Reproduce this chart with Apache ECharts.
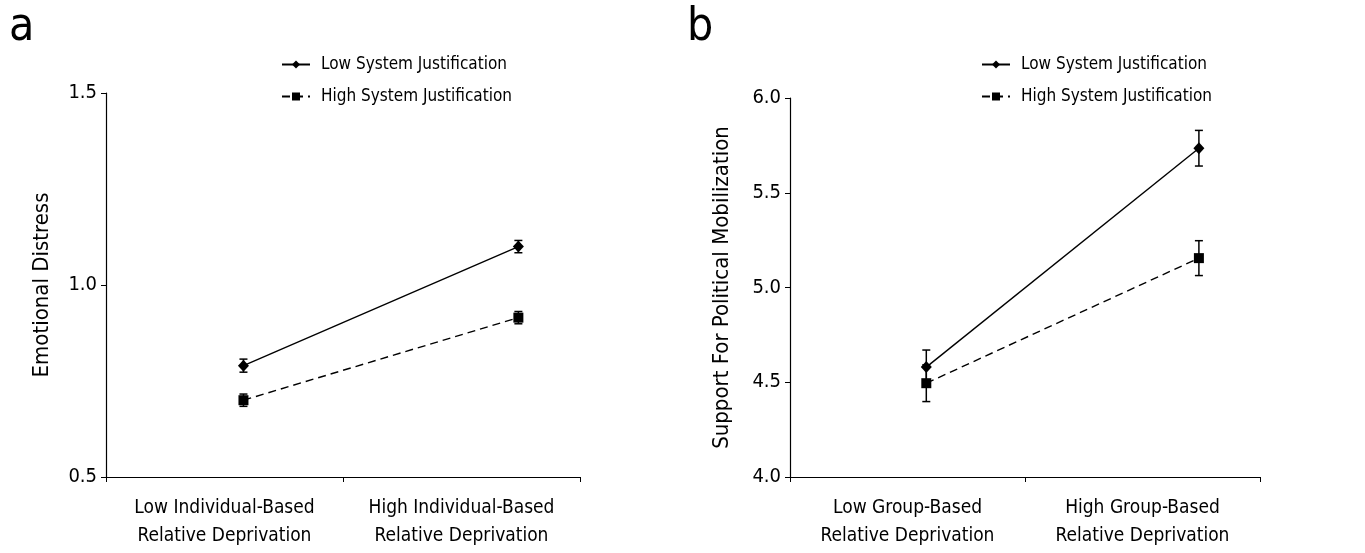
<!DOCTYPE html>
<html>
<head>
<meta charset="utf-8">
<script src="https://cdn.jsdelivr.net/npm/echarts@6/dist/echarts.min.js"></script>
<style>
html,body{margin:0;padding:0;background:#fff;}
#chart{width:1365px;height:553px;}
</style>
</head>
<body>
<div id="chart"></div>
<script>
// ---- data ----
const seriesNames = ['Low System Justification', 'High System Justification'];
const catsA = ['Low Individual-Based\nRelative Deprivation', 'High Individual-Based\nRelative Deprivation'];
const catsB = ['Low Group-Based\nRelative Deprivation', 'High Group-Based\nRelative Deprivation'];
// x location of the points on a 0..2 scale spanning the two categories
const pointX = [0.58, 1.74];
const lowSJ_A = [0.79, 1.10];
const lowSJ_A_err = [0.017, 0.016];
const highSJ_A = [0.70, 0.915];
const highSJ_A_err = [0.016, 0.016];
const lowSJ_B = [4.58, 5.735];
const lowSJ_B_err = [0.09, 0.094];
const highSJ_B = [4.495, 5.155];
const highSJ_B_err = [0.097, 0.092];
const yTicksA = {min: 0.5, max: 1.5, interval: 0.5};
const yTicksB = {min: 4.0, max: 6.0, interval: 0.5};
const yNameA = 'Emotional Distress';
const yNameB = 'Support For Political Mobilization';

const FONT = '"DejaVu Sans Condensed", "Liberation Sans Narrow", sans-serif';

function pts(vals) { return vals.map((v, i) => [pointX[i], v]); }
function errData(vals, errs) { return vals.map((v, i) => [pointX[i], v - errs[i], v + errs[i]]); }

function errSeries(name, vals, errs, xi, yi) {
  return {
    type: 'custom', name: name, xAxisIndex: xi, yAxisIndex: yi, z: 3,
    silent: true,
    data: errData(vals, errs),
    renderItem: function (params, api) {
      const x = api.value(0);
      const lo = api.coord([x, api.value(1)]);
      const hi = api.coord([x, api.value(2)]);
      const w = 4;
      const st = {stroke: '#000', lineWidth: 1.5};
      return {type: 'group', children: [
        {type: 'line', shape: {x1: lo[0], y1: lo[1], x2: hi[0], y2: hi[1]}, style: st},
        {type: 'line', shape: {x1: lo[0] - w, y1: lo[1], x2: lo[0] + w, y2: lo[1]}, style: st},
        {type: 'line', shape: {x1: hi[0] - w, y1: hi[1], x2: hi[0] + w, y2: hi[1]}, style: st}
      ]};
    }
  };
}

function lineSeries(name, vals, xi, yi, dashed) {
  return {
    type: 'line', name: name, xAxisIndex: xi, yAxisIndex: yi, z: 4,
    data: pts(vals),
    symbol: dashed ? 'rect' : 'diamond',
    symbolSize: dashed ? 10 : [11, 12],
    itemStyle: {color: '#000'},
    lineStyle: {color: '#000', width: 1.4, type: dashed ? [8, 5] : 'solid'},
    emphasis: {disabled: true},
    animation: false
  };
}

function catAxis(cats, gi) {
  return {
    type: 'category', gridIndex: gi, data: cats, boundaryGap: true,
    axisLine: {lineStyle: {color: '#000', width: 1.2}},
    axisTick: {show: true, length: 5, lineStyle: {color: '#000'}},
    axisLabel: {color: '#000', fontFamily: FONT, fontSize: 19, lineHeight: 28, margin: 17, interval: 0}
  };
}
function valXAxis(gi) {
  return {type: 'value', gridIndex: gi, min: 0, max: 2, show: false};
}
function yAxis(t, name, gi, gap) {
  return {
    type: 'value', gridIndex: gi, min: t.min, max: t.max, interval: t.interval,
    name: name, nameLocation: 'middle', nameGap: gap, nameRotate: 90,
    nameTextStyle: {color: '#000', fontFamily: FONT, fontSize: 22},
    axisLine: {show: true, lineStyle: {color: '#000', width: 1.2}},
    axisTick: {show: true, length: 5, lineStyle: {color: '#000'}},
    splitLine: {show: false},
    axisLabel: {color: '#000', fontFamily: FONT, fontSize: 20, margin: 9,
      formatter: v => v.toFixed(1)}
  };
}
function legend(left) {
  return {
    orient: 'vertical', left: left, top: 51, itemGap: 15,
    itemWidth: 28, itemHeight: 10,
    data: seriesNames,
    textStyle: {color: '#000', fontFamily: FONT, fontSize: 17, padding: [0, 0, 0, 6]},
    selectedMode: false
  };
}

const chart = echarts.init(document.getElementById('chart'));
chart.setOption({
  backgroundColor: '#fff',
  animation: false,
  title: [
    {text: 'a', left: 4, top: 0, textStyle: {fontFamily: FONT, fontSize: 46, fontWeight: 'normal', color: '#000'}},
    {text: 'b', left: 682, top: 0, textStyle: {fontFamily: FONT, fontSize: 46, fontWeight: 'normal', color: '#000'}}
  ],
  legend: [legend(276), legend(976)],
  grid: [
    {left: 106, right: 785, top: 93, bottom: 76},
    {left: 790, right: 105, top: 98, bottom: 76}
  ],
  xAxis: [catAxis(catsA, 0), valXAxis(0), catAxis(catsB, 1), valXAxis(1)],
  yAxis: [yAxis(yTicksA, yNameA, 0, 53), yAxis(yTicksB, yNameB, 1, 57)],
  series: [
    errSeries('errA1', lowSJ_A, lowSJ_A_err, 1, 0),
    errSeries('errA2', highSJ_A, highSJ_A_err, 1, 0),
    lineSeries(seriesNames[0], lowSJ_A, 1, 0, false),
    lineSeries(seriesNames[1], highSJ_A, 1, 0, true),
    errSeries('errB1', lowSJ_B, lowSJ_B_err, 3, 1),
    errSeries('errB2', highSJ_B, highSJ_B_err, 3, 1),
    lineSeries(seriesNames[0], lowSJ_B, 3, 1, false),
    lineSeries(seriesNames[1], highSJ_B, 3, 1, true)
  ]
});
</script>
</body>
</html>
